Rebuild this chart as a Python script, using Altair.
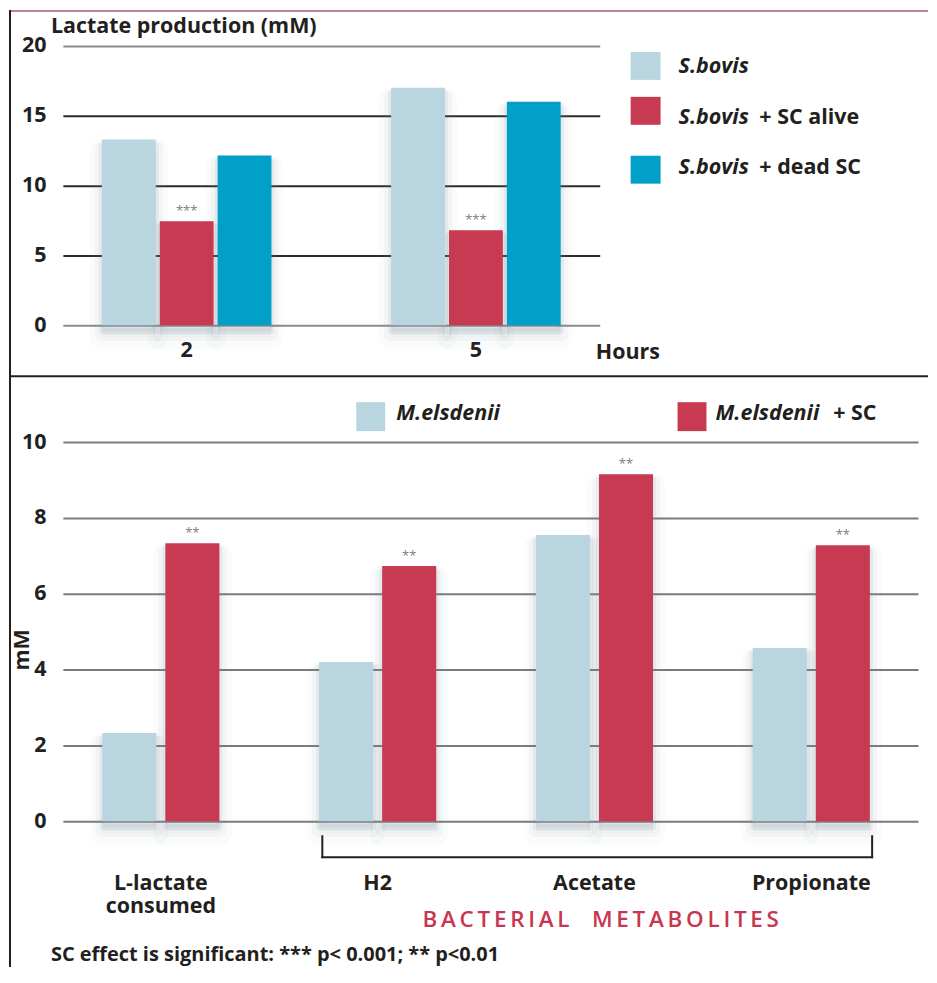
import altair as alt
import pandas as pd

# ---------------- data ----------------
hours = ["2", "5"]
top_series = ["S.bovis", "S.bovis + SC alive", "S.bovis + dead SC"]
sbovis = [13.3, 17.0]
sbovis_sc_alive = [7.45, 6.8]
sbovis_dead_sc = [12.15, 16.0]
top_sig = ["", "***", ""]
top_colors = ["#b9d6e0", "#c83a52", "#00a0c8"]

metabolites = ["L-lactate|consumed", "H2", "Acetate", "Propionate"]
bottom_series = ["M.elsdenii", "M.elsdenii + SC"]
melsdenii = [2.33, 4.2, 7.55, 4.57]
melsdenii_sc = [7.33, 6.73, 9.15, 7.28]
bottom_sig = ["", "**"]
bottom_colors = ["#b9d6e0", "#c83a52"]

FONT = "Open Sans"
TXT = "#231f20"
FS = 21.5

top_rows = []
for s, vals, sig in zip(top_series, [sbovis, sbovis_sc_alive, sbovis_dead_sc], top_sig):
    for h, v in zip(hours, vals):
        top_rows.append({"hour": h, "tseries": s, "value": v, "sig": sig})
top_df = pd.DataFrame(top_rows)

bot_rows = []
for s, vals, sig in zip(bottom_series, [melsdenii, melsdenii_sc], bottom_sig):
    for m, v in zip(metabolites, vals):
        bot_rows.append({"metab": m, "bseries": s, "bvalue": v, "bsig": sig})
bot_df = pd.DataFrame(bot_rows)


def one():
    return pd.DataFrame([{"k": 0}])


def hrule(x, x2, y, color, w):
    return alt.Chart(one()).mark_rule(color=color, strokeWidth=w).encode(
        x=alt.value(x), x2=alt.value(x2), y=alt.value(y))


def vrule(x, y, y2, color, w):
    return alt.Chart(one()).mark_rule(color=color, strokeWidth=w).encode(
        x=alt.value(x), y=alt.value(y), y2=alt.value(y2))


def label(text, x, y, size=FS, style="normal", weight="bold", color=TXT, align="left", angle=0):
    return alt.Chart(pd.DataFrame({"t": [text]})).mark_text(
        font=FONT, fontSize=size, fontStyle=style, fontWeight=weight, color=color,
        align=align, baseline="middle", angle=angle).encode(
        x=alt.value(x), y=alt.value(y), text="t:N")


def swatch(x, y, w, h, color):
    return alt.Chart(one()).mark_rect(color=color).encode(
        x=alt.value(x), x2=alt.value(x + w), y=alt.value(y), y2=alt.value(y + h))


def shadows(base, x, xo, y):
    # soft grey glow behind the bars, strongest just below the baseline
    out = []
    for dy, db, sw, op in [(6, 8, 6, 0.10), (9, 14, 14, 0.06), (12, 20, 24, 0.04)]:
        out.append(base.mark_bar(fill="#7f8f9f", fillOpacity=op, stroke="#7f8f9f",
                                 strokeWidth=sw, strokeOpacity=op, strokeJoin="round",
                                 yOffset=dy, y2Offset=db).encode(
            x=x, xOffset=xo, y=y))
    return out


axis_common = dict(labelFont=FONT, labelFontSize=FS, labelFontWeight="bold", labelColor=TXT,
                   ticks=False, domain=False, title=None)

# ---------------- top panel ----------------
TW, TH = 538, 280
top_base = alt.Chart(top_df)
top_x = alt.X("hour:N", sort=hours,
              scale=alt.Scale(paddingInner=0.414, paddingOuter=0.135),
              axis=alt.Axis(labelAngle=0, labelPadding=14, grid=False, **axis_common))
top_xo = alt.XOffset("tseries:N", sort=top_series,
                     scale=alt.Scale(domain=top_series, paddingInner=0.07, paddingOuter=0))
top_y = alt.Y("value:Q", scale=alt.Scale(domain=[0, 20]),
              axis=alt.Axis(values=[0, 5, 10, 15, 20], labelPadding=17, grid=True,
                            gridWidth=2,
                            gridColor=alt.condition("datum.value == 0 || datum.value == 20",
                                                    alt.value("#8a8a8a"), alt.value("#2a2a2a")),
                            **axis_common))
top_bars = top_base.mark_bar().encode(
    x=top_x, xOffset=top_xo, y=top_y,
    color=alt.Color("tseries:N", sort=top_series,
                    scale=alt.Scale(domain=top_series, range=top_colors), legend=None))
top_stars = top_base.transform_filter("datum.sig != ''").mark_text(
    font=FONT, fontSize=13, color="#808080", baseline="bottom", dy=-3).encode(
    x=top_x, xOffset=top_xo, y=top_y, text="sig:N")

top_layers = shadows(top_base, top_x, top_xo, top_y) + [
    top_bars, top_stars,
    label("Lactate production (mM)", -12, -19),
    label("Hours", 534, 308)]
leg_sq_y = [6, 51, 110]
leg_tx_y = [21, 72, 122]
for i, (s, c) in enumerate(zip(top_series, top_colors)):
    parts = s.split(" + ")
    top_layers.append(swatch(569, leg_sq_y[i], 30, 28, c))
    top_layers.append(label(parts[0], 617, leg_tx_y[i], style="italic"))
    if len(parts) > 1:
        top_layers.append(label("+ " + parts[1], 698, leg_tx_y[i]))
# frame
top_layers += [hrule(-54, 867, -35, "#c0809a", 2),
               vrule(-53, -36, 332, "#231f20", 2),
               hrule(-54, 867, 331, "#231f20", 2)]
top = alt.layer(*top_layers).properties(width=TW, height=TH)

# ---------------- bottom panel ----------------
BW, BH = 857, 380
bot_base = alt.Chart(bot_df)
bot_x = alt.X("metab:N", sort=metabolites,
              scale=alt.Scale(paddingInner=0.46, paddingOuter=0.202, align=0.45),
              axis=alt.Axis(labelAngle=0, labelPadding=51, grid=False, labelLineHeight=23,
                            labelExpr="split(datum.label, '|')", **axis_common))
bot_xo = alt.XOffset("bseries:N", sort=bottom_series,
                     scale=alt.Scale(domain=bottom_series, paddingInner=0.143, paddingOuter=0))
bot_y = alt.Y("bvalue:Q", scale=alt.Scale(domain=[0, 10]),
              axis=alt.Axis(values=[0, 2, 4, 6, 8, 10], labelPadding=17, grid=True,
                            gridWidth=2, gridColor="#7a7a7a", **axis_common))
bot_bars = bot_base.mark_bar().encode(
    x=bot_x, xOffset=bot_xo, y=bot_y,
    color=alt.Color("bseries:N", sort=bottom_series,
                    scale=alt.Scale(domain=bottom_series, range=bottom_colors), legend=None))
bot_stars = bot_base.transform_filter("datum.bsig != ''").mark_text(
    font=FONT, fontSize=13, color="#808080", baseline="bottom", dy=-3).encode(
    x=bot_x, xOffset=bot_xo, y=bot_y, text="bsig:N")

spaced = "\u2009".join(list("BACTERIAL")) + "\u2003" + "\u2009".join(list("METABOLITES"))
bot_layers = shadows(bot_base, bot_x, bot_xo, bot_y) + [
    bot_bars, bot_stars,
    label("mM", -40, 229, angle=270),
    # bracket
    vrule(260, 394, 417, "#231f20", 2),
    vrule(811, 394, 417, "#231f20", 2),
    hrule(259, 812, 416, "#231f20", 2),
    label(spaced, 539, 479, size=22.5, weight=600, color="#c8374f", align="center"),
    label("SC effect is significant: *** p< 0.001; ** p<0.01", -12, 514, size=20),
    vrule(-53, -66, 526, "#231f20", 2)]
bleg_sq_x = [294, 616]
bleg_tx_x = [334, 654]
for i, (s, c) in enumerate(zip(bottom_series, bottom_colors)):
    parts = s.split(" + ")
    bot_layers.append(swatch(bleg_sq_x[i], -40, 29, 29, c))
    bot_layers.append(label(parts[0], bleg_tx_x[i], -28, style="italic"))
    if len(parts) > 1:
        bot_layers.append(label("+ " + parts[1], 772, -28))
bottom = alt.layer(*bot_layers).properties(width=BW, height=BH)

chart = alt.vconcat(top, bottom, spacing=117, bounds="flush").properties(
    padding=0).resolve_scale(
    xOffset="independent", color="independent", x="independent", y="independent"
).configure_view(stroke=None)

chart.save("out.html", embed_options={"renderer": "svg", "actions": False})
